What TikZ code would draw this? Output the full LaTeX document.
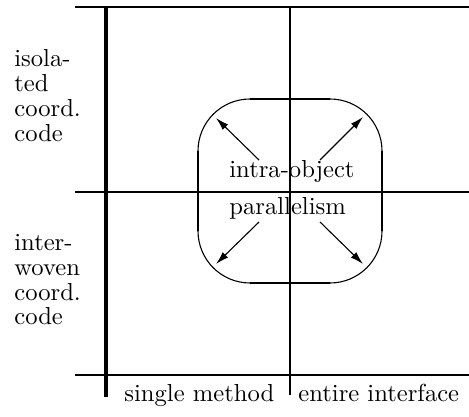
\documentclass[tikz,border=0pt]{standalone}
\usepackage{fontspec}
\newfontfamily\lmten{lmroman10-regular}[Extension=.otf]
\usetikzlibrary{arrows.meta}
\begin{document}
\begin{tikzpicture}[x=0.5pt,y=-0.5pt,
  lbl/.style={inner sep=0pt,anchor=base west,font=\lmten\fontsize{12.3}{12.3}\selectfont},
  gridline/.style={line width=1.1pt},
  axisline/.style={line width=1.6pt},
  ovalline/.style={line width=1pt},
  ovalarc/.style={line width=0.55pt},
  arr/.style={line width=0.55pt,-{Latex[length=6.5pt,width=3.8pt]}}]
\useasboundingbox (0,0) rectangle (469,416);
% grid
\draw[gridline] (75,7) -- (469,7);
\draw[gridline] (75,192) -- (469,192);
\draw[gridline] (75,375) -- (469,375);
\draw[axisline] (106,7) -- (106,397);
\draw[gridline] (290,7) -- (290,395);
% rounded box
\draw[ovalline] (250,99) -- (330,99);
\draw[ovalline] (250,283) -- (330,283);
\draw[ovalline] (198,151) -- (198,231);
\draw[ovalline] (382,151) -- (382,231);
\draw[ovalarc] (198,151) arc[start angle=180,end angle=270,radius=52];
\draw[ovalarc] (330,99) arc[start angle=270,end angle=360,radius=52];
\draw[ovalarc] (382,231) arc[start angle=0,end angle=90,radius=52];
\draw[ovalarc] (250,283) arc[start angle=90,end angle=180,radius=52];
% labels
\node[lbl] (l1) at (14,67) {isola-};
\node[lbl] (l2) at (14,92) {ted};
\node[lbl] (l3) at (14,117) {coord.};
\node[lbl] (l4) at (14,142) {code};
\node[lbl] (m1) at (14,250) {inter-};
\node[lbl] (m2) at (14,275) {woven};
\node[lbl] (m3) at (14,300) {coord.};
\node[lbl] (m4) at (14,324) {code};
\node[lbl] (intra) at (229,178) {intra-object};
\node[lbl] (par) at (229,214) {parallelism};
\node[lbl] (single) at (124,401) {single method};
\node[lbl] (entire) at (298,401) {entire interface};
% arrows
\coordinate (tls) at (259,160); \coordinate (tle) at (216,118);
\coordinate (trs) at (320,160); \coordinate (tre) at (363,117);
\coordinate (brs) at (320,222); \coordinate (bre) at (363,264);
\coordinate (bls) at (259,222); \coordinate (ble) at (216,264);
\draw[arr] (tls) -- (tle);
\draw[arr] (trs) -- (tre);
\draw[arr] (brs) -- (bre);
\draw[arr] (bls) -- (ble);
\end{tikzpicture}
\end{document}
